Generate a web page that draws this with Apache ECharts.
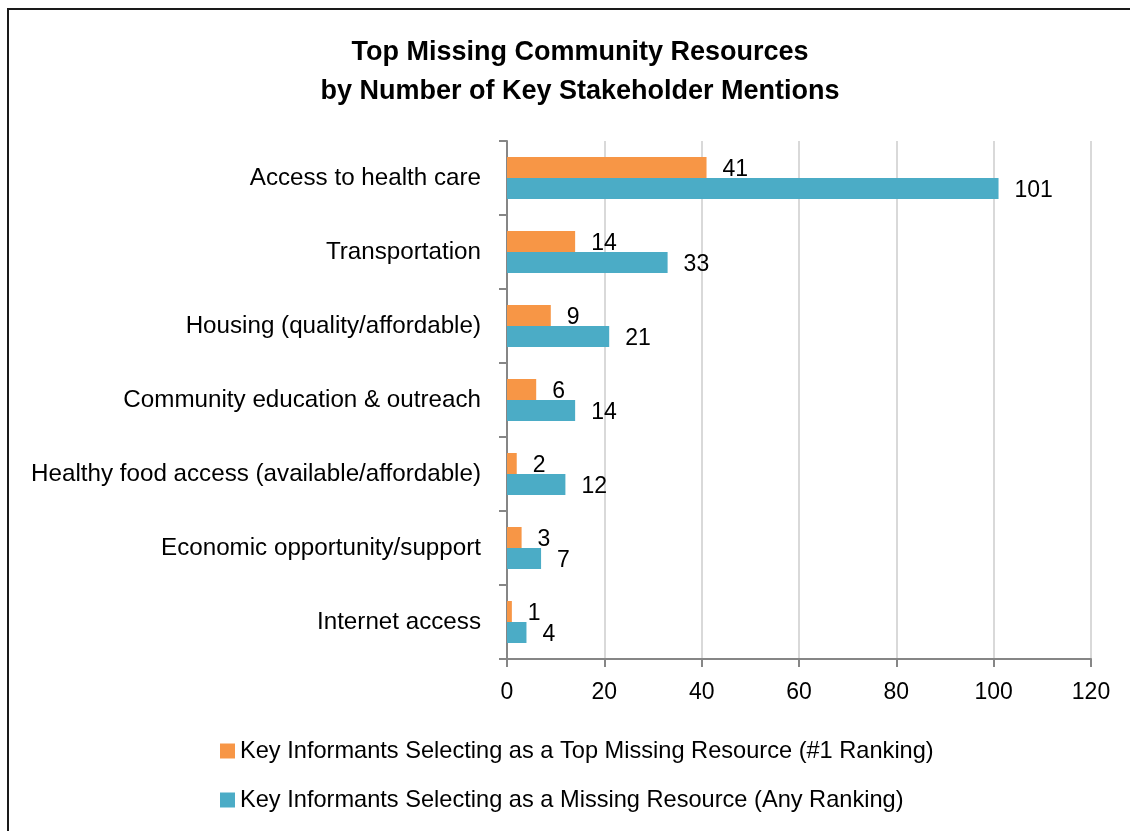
<!DOCTYPE html>
<html>
<head>
<meta charset="utf-8">
<script src="https://cdn.jsdelivr.net/npm/echarts@6/dist/echarts.min.js"></script>
<style>
  html, body { margin: 0; padding: 0; background: #fff; }
  #chart { width: 1130px; height: 831px; }
</style>
</head>
<body>
<div id="chart"></div>
<script>
// Missing community resources and how often key informants named them
const categories = [
  'Access to health care',
  'Transportation',
  'Housing (quality/affordable)',
  'Community education & outreach',
  'Healthy food access (available/affordable)',
  'Economic opportunity/support',
  'Internet access'
];
const topRankingCounts = [41, 14, 9, 6, 2, 3, 1];
const anyRankingCounts = [101, 33, 21, 14, 12, 7, 4];
const xTicks = [0, 20, 40, 60, 80, 100, 120];
const seriesNames = [
  'Key Informants Selecting as a Top Missing Resource (#1 Ranking)',
  'Key Informants Selecting as a Missing Resource (Any Ranking)'
];

const FONT = 'Liberation Sans, Arial, sans-serif';
const chart = echarts.init(document.getElementById('chart'), null, { renderer: 'canvas' });

chart.setOption({
  animation: false,
  backgroundColor: '#ffffff',
  textStyle: { fontFamily: FONT },
  title: {
    text: 'Top Missing Community Resources\nby Number of Key Stakeholder Mentions',
    left: 575,
    textAlign: 'center',
    top: 28,
    textStyle: { fontSize: 27, fontWeight: 'bold', color: '#000', lineHeight: 39, fontFamily: FONT }
  },
  graphic: [{
    type: 'rect',
    shape: { x: 8, y: 9, width: 1200, height: 900 },
    style: { fill: 'none', stroke: '#1a1a1a', lineWidth: 2 },
    silent: true,
    z: 100
  }],
  legend: {
    orient: 'vertical',
    left: 215,
    top: 734,
    itemWidth: 15,
    itemHeight: 15,
    itemGap: 25,
    icon: 'rect',
    textStyle: { fontSize: 23.6, color: '#000', fontFamily: FONT },
    data: seriesNames
  },
  grid: { left: 507, right: 39, top: 141, bottom: 172, containLabel: false },
  xAxis: {
    type: 'value',
    min: xTicks[0],
    max: xTicks[xTicks.length - 1],
    interval: xTicks[1] - xTicks[0],
    axisLine: { show: true, lineStyle: { color: '#868686', width: 2 } },
    axisTick: { show: true, length: 8, lineStyle: { color: '#868686', width: 2 } },
    axisLabel: { fontSize: 23, color: '#000', margin: 22, fontFamily: FONT },
    splitLine: { show: true, lineStyle: { color: '#d9d9d9', width: 2 } }
  },
  yAxis: {
    type: 'category',
    data: categories,
    inverse: true,
    axisLine: { show: true, lineStyle: { color: '#868686', width: 2 } },
    axisTick: { show: true, length: 8, lineStyle: { color: '#868686', width: 2 } },
    axisLabel: { fontSize: 24.2, color: '#000', margin: 26, fontFamily: FONT }
  },
  series: [
    {
      name: seriesNames[0],
      type: 'bar',
      data: topRankingCounts,
      barWidth: 21,
      barGap: '0%',
      itemStyle: { color: '#F79646' },
      label: { show: true, position: 'right', distance: 16, offset: [0, 2], fontSize: 23, color: '#000', fontFamily: FONT }
    },
    {
      name: seriesNames[1],
      type: 'bar',
      data: anyRankingCounts,
      barWidth: 21,
      barGap: '0%',
      itemStyle: { color: '#4BACC6' },
      label: { show: true, position: 'right', distance: 16, offset: [0, 2], fontSize: 23, color: '#000', fontFamily: FONT }
    }
  ]
});
</script>
</body>
</html>
